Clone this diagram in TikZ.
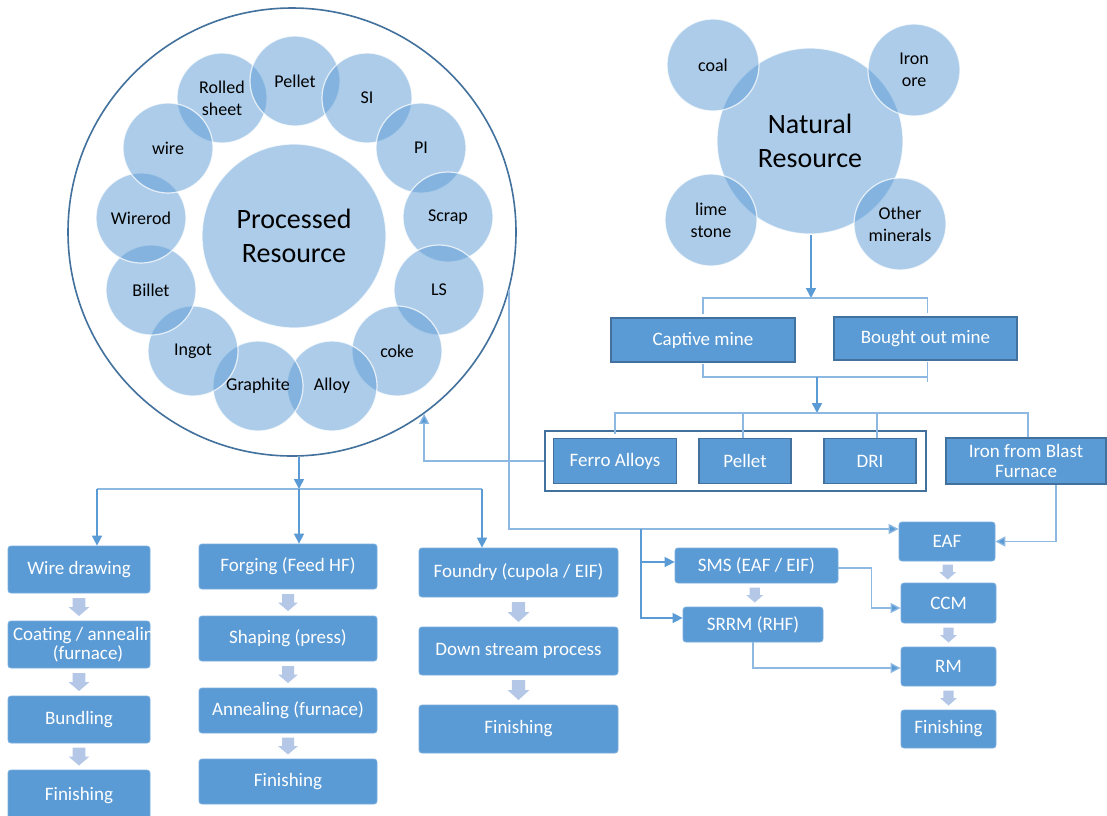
\documentclass[tikz,border=0pt]{standalone}
\usepackage{fontspec}
\setmainfont{Carlito}
\usetikzlibrary{arrows.meta,calc}
\definecolor{boxblue}{HTML}{5B9BD5}
\definecolor{edgeblue}{HTML}{41719C}
\definecolor{softedge}{HTML}{7AAEDD}
\definecolor{paleline}{HTML}{8DB8E2}
\definecolor{stepblue}{HTML}{B4C7E7}
\tikzset{
  bubble/.style={circle, inner sep=0pt, minimum size=90pt, fill=boxblue, fill opacity=0.5,
    draw=white, draw opacity=0.75, line width=1.2pt, text opacity=1, align=center,
    font=\fontsize{18}{22}\selectfont},
  hub/.style={bubble, minimum size=184pt, font=\fontsize{28}{34}\selectfont},
  procbox/.style={rectangle, rounded corners=3pt, fill=boxblue, draw=softedge, line width=0.8pt,
    text=white, align=center, inner sep=0pt, font=\fontsize{19}{20}\selectfont},
  minebox/.style={rectangle, fill=boxblue, draw=edgeblue, line width=1.6pt,
    text=white, align=center, inner sep=0pt, font=\fontsize{19}{20}\selectfont},
  arr/.style={draw=boxblue, line width=1.6pt, -{Triangle[length=10pt,width=10pt]}},
  paleln/.style={draw=paleline, line width=1.3pt},
  palearr/.style={paleln, -{Triangle[length=10pt,width=10pt,fill=boxblue]}},
  stepdown/.pic={\fill[stepblue] (-0.3,-0.5) -- (0.3,-0.5) -- (0.3,0) -- (0.5,0) -- (0,0.5)
    -- (-0.5,0) -- (-0.3,0) -- cycle;}
}
\begin{document}
\begin{tikzpicture}[x=1pt,y=-1pt]
\useasboundingbox[fill=white] (0,0) rectangle (1107,815);

% ---------- processed resources ----------
\node[circle, draw=edgeblue, fill=white, line width=1.6pt, minimum size=448pt, inner sep=0pt] (big) at (292,232) {};
\node[hub] (proc) at (294,236) {Processed\\Resource};
\node[bubble] (rs)  at (222,98)  {Rolled\\sheet};
\node[bubble] (pl)  at (295,81)  {Pellet};
\node[bubble] (si)  at (367,98)  {SI};
\node[bubble] (pi)  at (421,148) {PI};
\node[bubble] (sc)  at (448,217) {Scrap};
\node[bubble] (ls)  at (439,290) {LS};
\node[bubble] (ck)  at (397,351) {coke};
\node[bubble] (al)  at (332,386) {Alloy};
\node[bubble] (gr)  at (258,386) {Graphite};
\node[bubble] (ig)  at (193,351) {Ingot};
\node[bubble] (bl)  at (151,290) {Billet};
\node[bubble] (wr)  at (141,218) {Wirerod};
\node[bubble] (wi)  at (168,148) {wire};

% ---------- natural resources ----------
\node[hub, minimum size=186pt] (nat) at (810,141) {Natural\\Resource};
\node[bubble, minimum size=92pt] (coal) at (713,65)  {coal};
\node[bubble, minimum size=92pt] (ore)  at (914,70)  {Iron\\ore};
\node[bubble, minimum size=92pt] (lime) at (711,220) {lime\\stone};
\node[bubble, minimum size=92pt] (oth)  at (900,224) {Other\\minerals};

% ---------- mines and raw inputs ----------
\node[minebox, minimum width=184pt, minimum height=44pt] (cm) at (703,340) {Captive mine};
\node[minebox, minimum width=183pt, minimum height=43pt] (bm) at (925.5,338.5) {Bought out mine};
\node[rectangle, draw=edgeblue, line width=1.8pt, minimum width=381pt, minimum height=60pt, inner sep=0pt] (grp) at (735.5,461) {};
\node[minebox, minimum width=123pt, minimum height=45pt] (fa)  at (615,461) {Ferro Alloys};
\node[minebox, minimum width=92pt,  minimum height=45pt] (pe)  at (745,461) {Pellet};
\node[minebox, minimum width=92pt,  minimum height=45pt] (dri) at (870,461) {DRI};
\node[minebox, minimum width=160pt, minimum height=46pt] (ibf) at (1026,461) {Iron from Blast\\Furnace};

% ---------- wire route ----------
\node[procbox, minimum width=142pt, minimum height=47pt] (wd)  at (79,569.5) {Wire drawing};
\node[procbox, minimum width=142pt, minimum height=47pt] (ca)  at (79,644.5) {};
\begin{scope}
  \clip (ca.south west) rectangle (ca.north east);
  \node[text=white, align=center, inner sep=0pt, font=\fontsize{19}{19}\selectfont] (catext) at ([xshift=9pt]ca.center) {Coating / annealing\\(furnace)};
\end{scope}
\node[procbox, minimum width=142pt, minimum height=47pt] (bu)  at (79,719.5) {Bundling};
\node[procbox, minimum width=142pt, minimum height=52pt] (fi1) at (79,796) {Finishing};

% ---------- forging route ----------
\node[procbox, minimum width=178pt, minimum height=45pt] (fo)  at (288,566.5) {Forging (Feed HF)};
\node[procbox, minimum width=178pt, minimum height=45pt] (sh)  at (288,638.5) {Shaping (press)};
\node[procbox, minimum width=178pt, minimum height=45pt] (an)  at (288,710.5) {Annealing (furnace)};
\node[procbox, minimum width=178pt, minimum height=45pt] (fi2) at (288,781.5) {Finishing};

% ---------- foundry route ----------
\node[procbox, minimum width=199pt, minimum height=49pt] (fd)  at (518.5,572.5) {Foundry (cupola / EIF)};
\node[procbox, minimum width=199pt, minimum height=48pt] (ds)  at (518.5,651) {Down stream process};
\node[procbox, minimum width=199pt, minimum height=48pt] (fi3) at (518.5,729) {Finishing};

% ---------- steel melting route ----------
\node[procbox, minimum width=163pt, minimum height=35pt] (sms)  at (756.5,565.5) {SMS (EAF / EIF)};
\node[procbox, minimum width=140pt, minimum height=35pt] (srrm) at (753,624.5) {SRRM (RHF)};
\node[procbox, minimum width=96pt, minimum height=39pt] (eaf) at (947,541.5) {EAF};
\node[procbox, minimum width=95pt, minimum height=40pt] (ccm) at (948.5,603) {CCM};
\node[procbox, minimum width=95pt, minimum height=39pt] (rm)  at (948.5,666.5) {RM};
\node[procbox, minimum width=95pt, minimum height=38pt] (fi4) at (948.5,729) {Finishing};

% ---------- step arrows inside each route ----------
\pic[xscale=21,yscale=18] at ($(wd.south)!0.5!(ca.north)$) {stepdown};
\pic[xscale=21,yscale=18] at ($(ca.south)!0.5!(bu.north)$) {stepdown};
\pic[xscale=21,yscale=18] at ($(bu.south)!0.5!(fi1.north)$) {stepdown};
\pic[xscale=20,yscale=17] at ($(fo.south)!0.5!(sh.north)$) {stepdown};
\pic[xscale=20,yscale=17] at ($(sh.south)!0.5!(an.north)$) {stepdown};
\pic[xscale=20,yscale=17] at ($(an.south)!0.5!(fi2.north)$) {stepdown};
\pic[xscale=22,yscale=20] at ($(fd.south)!0.5!(ds.north)$) {stepdown};
\pic[xscale=22,yscale=20] at ($(ds.south)!0.5!(fi3.north)$) {stepdown};
\pic[xscale=17,yscale=15] at ($(sms.south)!0.5!(srrm.north)$) {stepdown};
\pic[xscale=17,yscale=15] at ($(eaf.south)!0.5!(ccm.north)$) {stepdown};
\pic[xscale=17,yscale=15] at ($(ccm.south)!0.5!(rm.north)$) {stepdown};
\pic[xscale=17,yscale=15] at ($(rm.south)!0.5!(fi4.north)$) {stepdown};

% ---------- connectors: natural resources to inputs ----------
\coordinate (b1) at (811,298);
\coordinate (b2) at (817,377);
\coordinate (b3) at (817,413);
\draw[arr] (nat.south -| b1) -- (b1);
\draw[paleln] ([yshift=3pt]cm.north) |- (b1) -| ([xshift=2pt,yshift=3pt]bm.north);
\draw[paleln] ([yshift=-1pt]cm.south) |- (b2) -| ([xshift=2pt,yshift=-1pt]bm.south);
\draw[paleln] ([xshift=2pt,yshift=-1pt]bm.south) -- ++(0,20);
\draw[arr] (b2) -- (b3);
\draw[paleln] ([yshift=4pt]fa.north) |- (b3) -| ([xshift=2pt]ibf.north);
\draw[paleln] ([xshift=-2pt]pe.north) -- ([xshift=-2pt]pe.north |- b3);
\draw[paleln] ([xshift=7pt]dri.north) -- ([xshift=7pt]dri.north |- b3);

% ---------- connectors: inputs back to processed resources ----------
\draw[palearr] (grp.west) -| (big.-54);

% ---------- connectors: processed resources to the routes ----------
\coordinate (b4) at (299,489);
\coordinate (wdin) at ([xshift=18pt]wd.north);
\coordinate (fdin) at ([xshift=-36.5pt]fd.north);
\draw[arr] (b4 |- big.south) -- (b4);
\draw[paleln] (wdin |- b4) -- (fdin |- b4);
\draw[arr] (wdin |- b4) -- (wdin);
\draw[arr] (b4) -- (b4 |- fo.north);
\draw[arr] (fdin |- b4) -- (fdin);

% ---------- connectors: steel melting route ----------
\coordinate (j1) at (641,529);
\draw[palearr] (big.-15.3) |- ([yshift=12.5pt]eaf.west);
\draw[arr] (j1) |- ([yshift=3.5pt]sms.west);
\draw[arr] (j1) |- ([yshift=6.5pt]srrm.west);
\draw[palearr] ([xshift=30pt]ibf.south) |- (eaf.east);
\draw[palearr] ([yshift=-2.5pt]sms.east) -- ++(33,0) |- ([yshift=-5pt]ccm.west);
\draw[palearr] (srrm.south) |- ([yshift=-1.5pt]rm.west);
\end{tikzpicture}
\end{document}
